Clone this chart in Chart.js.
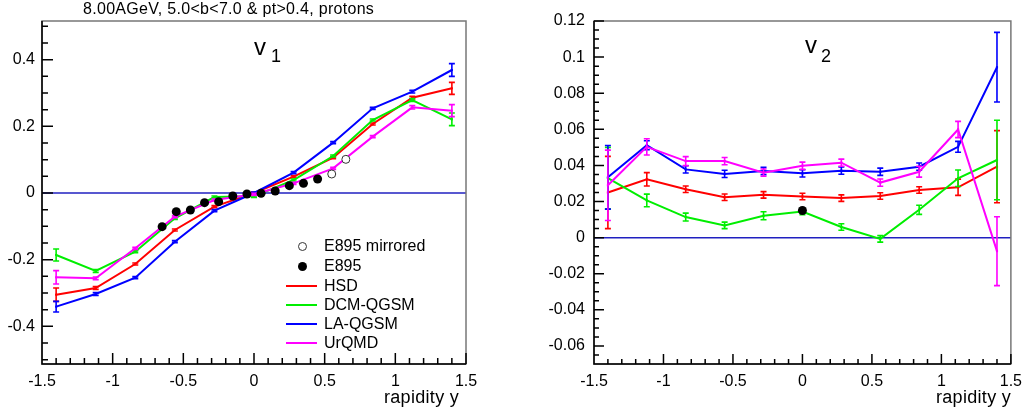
<!DOCTYPE html>
<html>
<head>
<meta charset="utf-8">
<script src="https://cdn.jsdelivr.net/npm/chart.js@4.4.1/dist/chart.umd.min.js"></script>
<style>
  body { margin: 0; background: #fff; font-family: "Liberation Sans", Arial, sans-serif; }
  #page { position: relative; width: 1030px; height: 417px; overflow: hidden; background: #fff; }
  .panel { position: absolute; top: 0; width: 515px; height: 417px; }
  .txt { position: absolute; white-space: nowrap; color: #000; line-height: 1; }
  .sym { position: absolute; }
</style>
</head>
<body>
<div id="page">
  <div class="panel" style="left:0"><canvas id="v1Chart"></canvas></div>
  <div class="panel" style="left:515px"><canvas id="v2Chart"></canvas></div>

  <div class="txt" style="left:83px;top:1px;font-size:16px;letter-spacing:0.3px">8.00AGeV, 5.0&lt;b&lt;7.0 &amp; pt&gt;0.4, protons</div>
  <div class="txt" style="left:254px;top:35px;font-size:24px">v</div>
  <div class="txt" style="left:271px;top:47px;font-size:18px">1</div>
  <div class="txt" style="left:805px;top:33px;font-size:24px">v</div>
  <div class="txt" style="left:821px;top:47px;font-size:18px">2</div>
  <div class="txt" style="left:384px;top:388px;font-size:18px;letter-spacing:0.3px">rapidity y</div>
  <div class="txt" style="left:936px;top:388px;font-size:18px;letter-spacing:0.3px">rapidity y</div>
  <div id="legend"></div>
</div>

<script>
  // rapidity points shared by all model curves
  const XS = [-1.4, -1.12, -0.84, -0.56, -0.28, 0, 0.28, 0.56, 0.84, 1.12, 1.4];

  const MODEL_NAMES = ['HSD', 'DCM-QGSM', 'LA-QGSM', 'UrQMD'];
  const MODEL_COLORS = ['#ff0000', '#00ee00', '#0000ff', '#ff00ff'];

  // v1 (directed flow)
  const V1_HSD = [-0.305, -0.285, -0.213, -0.111, -0.041, 0.0, 0.049, 0.106, 0.207, 0.286, 0.314];
  const V1_HSD_ERR = [0.02, 0.004, 0.003, 0.003, 0.003, 0.003, 0.003, 0.003, 0.003, 0.004, 0.018];
  const V1_DCM = [-0.186, -0.234, -0.176, -0.076, -0.012, -0.01, 0.039, 0.111, 0.219, 0.279, 0.221];
  const V1_DCM_ERR = [0.018, 0.004, 0.003, 0.003, 0.003, 0.003, 0.003, 0.003, 0.003, 0.004, 0.019];
  const V1_LAQ = [-0.341, -0.303, -0.254, -0.146, -0.053, 0.0, 0.061, 0.151, 0.254, 0.304, 0.369];
  const V1_LAQ_ERR = [0.016, 0.004, 0.003, 0.003, 0.003, 0.003, 0.003, 0.003, 0.003, 0.004, 0.019];
  const V1_URQ = [-0.253, -0.256, -0.166, -0.071, -0.021, -0.004, 0.029, 0.074, 0.169, 0.257, 0.247];
  const V1_URQ_ERR = [0.02, 0.004, 0.003, 0.003, 0.003, 0.003, 0.003, 0.003, 0.003, 0.005, 0.018];

  const E895_V1_X = [-0.65, -0.55, -0.45, -0.35, -0.25, -0.15, -0.05, 0.05, 0.15, 0.25, 0.35, 0.45];
  const E895_V1_Y = [-0.101, -0.056, -0.051, -0.029, -0.026, -0.009, -0.003, -0.001, 0.006, 0.022, 0.029, 0.042];
  const E895_MIRROR_X = [0.55, 0.65];
  const E895_MIRROR_Y = [0.057, 0.101];

  // v2 (elliptic flow)
  const V2_HSD = [0.025, 0.0323, 0.0268, 0.0224, 0.0237, 0.0228, 0.0219, 0.0231, 0.0264, 0.0279, 0.0393];
  const V2_HSD_ERR = [0.02, 0.0037, 0.0018, 0.0018, 0.0018, 0.0018, 0.0018, 0.0018, 0.0018, 0.0045, 0.02];
  const V2_DCM = [0.033, 0.0206, 0.0114, 0.0068, 0.0121, 0.0145, 0.0059, -0.0007, 0.0154, 0.0329, 0.043];
  const V2_DCM_ERR = [0.017, 0.0035, 0.0022, 0.0018, 0.0022, 0.0018, 0.0018, 0.0018, 0.0025, 0.0046, 0.022];
  const V2_LAQ = [0.0334, 0.0512, 0.0378, 0.0353, 0.0369, 0.0356, 0.0371, 0.0365, 0.0393, 0.0503, 0.0944];
  const V2_LAQ_ERR = [0.0176, 0.0025, 0.002, 0.002, 0.002, 0.002, 0.002, 0.002, 0.002, 0.003, 0.0193];
  const V2_URQ = [0.029, 0.0503, 0.0424, 0.0424, 0.036, 0.0398, 0.0415, 0.0305, 0.0365, 0.0599, -0.0075];
  const V2_URQ_ERR = [0.0195, 0.0045, 0.0025, 0.002, 0.002, 0.002, 0.002, 0.002, 0.003, 0.0045, 0.0191];

  const E895_V2_X = [0];
  const E895_V2_Y = [0.015];

  const toPoints = (xs, ys) => xs.map((x, i) => ({ x, y: ys[i] }));

  const modelDataset = (idx, values, errors, order) => ({
    label: MODEL_NAMES[idx],
    data: toPoints(XS, values),
    errors,
    borderColor: MODEL_COLORS[idx],
    backgroundColor: MODEL_COLORS[idx],
    borderWidth: 2,
    pointRadius: 1.5,
    pointBorderWidth: 0,
    pointStyle: 'rect',
    tension: 0,
    order
  });

  const fmt = (v) => String(Number(v.toFixed(3)));

  // ROOT style frame: inside ticks, zero line, error bars
  const rootFrame = {
    id: 'rootFrame',
    beforeDatasetsDraw(chart) {
      const { ctx, chartArea: a, scales } = chart;
      const y0 = scales.y.getPixelForValue(0);
      ctx.save();
      ctx.strokeStyle = '#2020c0';
      ctx.lineWidth = 1.5;
      ctx.beginPath();
      ctx.moveTo(a.left, y0);
      ctx.lineTo(a.right, y0);
      ctx.stroke();
      ctx.restore();
    },
    afterDatasetDraw(chart, args) {
      const ds = chart.data.datasets[args.index];
      if (!ds.errors) return;
      const { ctx, scales } = chart;
      ctx.save();
      ctx.strokeStyle = ds.borderColor;
      ctx.lineWidth = 1.6;
      ds.data.forEach((p, i) => {
        const e = ds.errors[i];
        const px = scales.x.getPixelForValue(p.x);
        const top = scales.y.getPixelForValue(p.y + e);
        const bot = scales.y.getPixelForValue(p.y - e);
        ctx.beginPath();
        ctx.moveTo(px, top);
        ctx.lineTo(px, bot);
        ctx.moveTo(px - 3, top);
        ctx.lineTo(px + 3, top);
        ctx.moveTo(px - 3, bot);
        ctx.lineTo(px + 3, bot);
        ctx.stroke();
      });
      ctx.restore();
    },
    afterDraw(chart) {
      const { ctx, chartArea: a, scales } = chart;
      const o = chart.options.plugins.rootFrame;
      ctx.save();
      ctx.strokeStyle = '#777';
      ctx.lineWidth = 1.5;
      ctx.strokeRect(a.left, a.top, a.right - a.left, a.bottom - a.top);
      ctx.strokeStyle = '#000';
      ctx.lineWidth = 1.5;
      ctx.beginPath();
      ctx.moveTo(a.left, a.top);
      ctx.lineTo(a.left, a.bottom);
      ctx.lineTo(a.right, a.bottom);
      // x ticks
      const xs = scales.x;
      for (let i = Math.ceil(xs.min / 0.1 - 1e-6); i <= Math.floor(xs.max / 0.1 + 1e-6); i++) {
        const len = i % 5 === 0 ? o.major : o.minor;
        const px = xs.getPixelForValue(i * 0.1);
        ctx.moveTo(px, a.bottom);
        ctx.lineTo(px, a.bottom - len);
      }
      // y ticks
      const ys = scales.y;
      const m = o.yMinor;
      const ratio = Math.round(o.yMajor / m);
      for (let i = Math.ceil(ys.min / m - 1e-6); i <= Math.floor(ys.max / m + 1e-6); i++) {
        const len = i % ratio === 0 ? o.major : o.minor;
        const py = ys.getPixelForValue(i * m);
        ctx.moveTo(a.left, py);
        ctx.lineTo(a.left + len, py);
      }
      ctx.stroke();
      ctx.restore();
    }
  };

  const makeChart = (id, datasets, yCfg, pad, yWidth, frame) => {
    const el = document.getElementById(id);
    return new Chart(el.getContext('2d'), {
      type: 'line',
      data: { datasets },
      plugins: [rootFrame],
      options: {
        responsive: true,
        maintainAspectRatio: false,
        animation: false,
        devicePixelRatio: 1,
        events: [],
        layout: { padding: pad },
        plugins: { legend: { display: false }, tooltip: { enabled: false }, rootFrame: frame },
        scales: {
          x: {
            type: 'linear',
            min: -1.5,
            max: 1.5,
            border: { display: false },
            grid: { display: false, drawTicks: false },
            ticks: {
              stepSize: 0.5,
              padding: 8,
              color: '#000',
              font: { family: 'Liberation Sans', size: 16 },
              callback: fmt
            },
            afterFit: (s) => { s.height = 53; }
          },
          y: {
            type: 'linear',
            min: yCfg.min,
            max: yCfg.max,
            border: { display: false },
            grid: { display: false, drawTicks: false },
            ticks: {
              stepSize: yCfg.step,
              includeBounds: false,
              padding: yCfg.pad,
              color: '#000',
              font: { family: 'Liberation Sans', size: 16 },
              callback: fmt
            },
            afterFit: (s) => { s.width = yWidth; }
          }
        }
      }
    });
  };

  const v1Sets = [
    {
      label: 'E895',
      data: toPoints(E895_V1_X, E895_V1_Y),
      showLine: false,
      pointRadius: 4.5,
      pointBackgroundColor: '#000',
      pointBorderWidth: 0,
      order: 0
    },
    {
      label: 'E895 mirrored',
      data: toPoints(E895_MIRROR_X, E895_MIRROR_Y),
      showLine: false,
      pointRadius: 4,
      pointBackgroundColor: '#fff',
      pointBorderColor: '#333',
      pointBorderWidth: 1,
      order: 0
    },
    modelDataset(0, V1_HSD, V1_HSD_ERR, 4),
    modelDataset(1, V1_DCM, V1_DCM_ERR, 3),
    modelDataset(2, V1_LAQ, V1_LAQ_ERR, 2),
    modelDataset(3, V1_URQ, V1_URQ_ERR, 1)
  ];

  const v2Sets = [
    {
      label: 'E895',
      data: toPoints(E895_V2_X, E895_V2_Y),
      showLine: false,
      pointRadius: 4.5,
      pointBackgroundColor: '#000',
      pointBorderWidth: 0,
      order: 0
    },
    modelDataset(0, V2_HSD, V2_HSD_ERR, 4),
    modelDataset(1, V2_DCM, V2_DCM_ERR, 3),
    modelDataset(2, V2_LAQ, V2_LAQ_ERR, 2),
    modelDataset(3, V2_URQ, V2_URQ_ERR, 1)
  ];

  makeChart('v1Chart', v1Sets,
    { min: -0.513, max: 0.516, step: 0.2, pad: 7 },
    { left: 0, right: 49, top: 21, bottom: 0 }, 42,
    { major: 11, minor: 6, yMajor: 0.2, yMinor: 0.05 });

  makeChart('v2Chart', v2Sets,
    { min: -0.07, max: 0.12, step: 0.02, pad: 9 },
    { left: 0, right: 12, top: 21, bottom: 0 }, 79,
    { major: 10, minor: 5, yMajor: 0.02, yMinor: 0.005 });

  // legend of the v1 panel
  const legend = document.getElementById('legend');
  const legendRows = ['E895 mirrored', 'E895'].concat(MODEL_NAMES);
  const rowY = [246, 266, 286, 305, 324, 343];
  legendRows.forEach((name, i) => {
    const cy = rowY[i];
    const sym = document.createElement('div');
    sym.className = 'sym';
    if (i === 0) {
      Object.assign(sym.style, { left: '298px', top: (cy - 4.5) + 'px', width: '7px', height: '7px',
        border: '1px solid #333', borderRadius: '50%' });
    } else if (i === 1) {
      Object.assign(sym.style, { left: '298px', top: (cy - 4.5) + 'px', width: '9px', height: '9px',
        background: '#000', borderRadius: '50%' });
    } else {
      Object.assign(sym.style, { left: '286px', top: (cy - 1) + 'px', width: '31px', height: '2px',
        background: MODEL_COLORS[i - 2] });
    }
    legend.appendChild(sym);
    const t = document.createElement('div');
    t.className = 'txt';
    t.style.left = '324px';
    t.style.top = (cy - 8) + 'px';
    t.style.fontSize = '16px';
    t.textContent = name;
    legend.appendChild(t);
  });
</script>
</body>
</html>
